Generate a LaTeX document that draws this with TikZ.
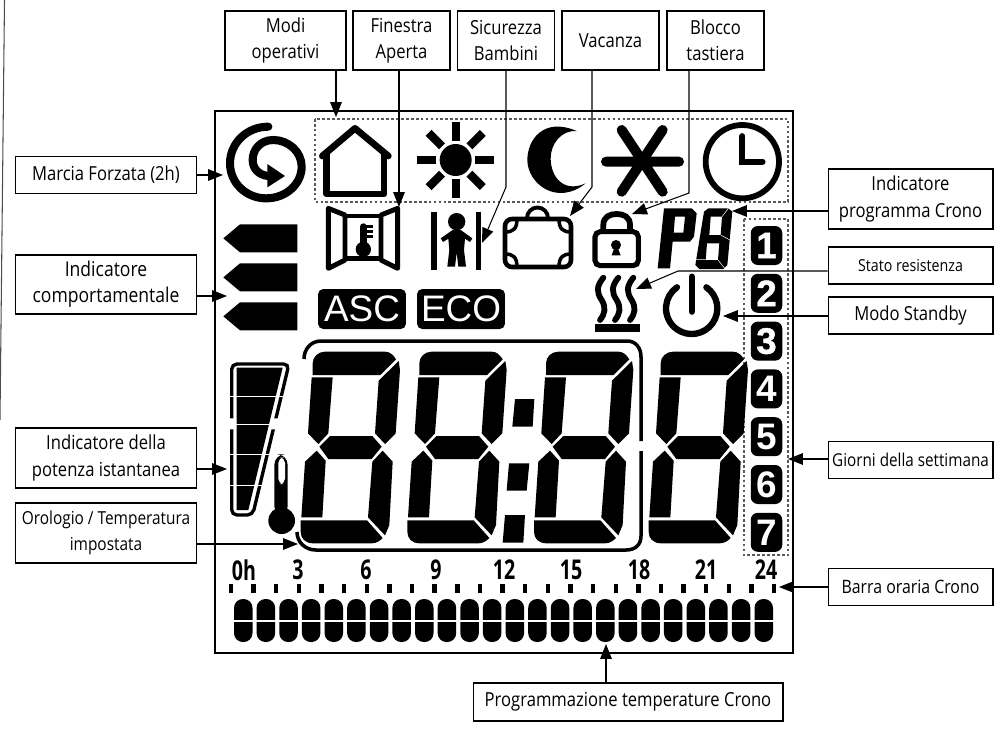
\documentclass[tikz,border=0pt]{standalone}
\usepackage{fontspec}
\usetikzlibrary{arrows.meta}
\setmainfont[FakeStretch=0.86]{Open Sans}
\newfontfamily\lcdfont[BoldFeatures={FakeBold=1.1}]{Liberation Sans}
\newfontfamily\dayfont{Liberation Sans}
\newfontfamily\hourfont[FakeStretch=0.72]{Open Sans}
\tikzset{
    labelbox/.style={draw,line width=.6pt,fill=white,inner sep=0pt,align=center,font=\fontsize{11}{15}\selectfont},
    topbox/.style={labelbox,minimum width=1.94cm,minimum height=1.18cm},
    leftbox/.style={labelbox,minimum width=3.62cm},
    rightbox/.style={labelbox,minimum width=3.3cm},
    conn/.style={line width=.6pt,-{Triangle[length=8.5pt,width=6.6pt]}},
    daybox/.style={fill=black,rounded corners=4pt,text=white,minimum width=.63cm,minimum height=.78cm,inner sep=0pt,font=\dayfont\bfseries\fontsize{21}{21}\selectfont},
    modebox/.style={fill=black,rounded corners=3pt,text=white,minimum width=1.76cm,minimum height=.8cm,inner sep=0pt,font=\dayfont\fontsize{21}{21}\selectfont},
    hourlabel/.style={inner sep=0pt,font=\hourfont\bfseries\fontsize{15.5}{16}\selectfont},
    groupbox/.style={line width=.6pt,black!65,dash pattern=on 1.5pt off 1.3pt},
    zoomone/.style={shift={(210,100)},scale=1/3},
    zoomtwo/.style={shift={(520,100)},scale=1/3},
    zoomthree/.style={shift={(210,330)},scale=1/3}
}
\begin{document}
\begin{tikzpicture}[x=0.02cm,y=-0.02cm]
    \useasboundingbox (0,0) rectangle (1000,751);
    \draw[line width=.6pt,black!70] (4.5,0) -- (0,420);
    \draw[line width=.9pt] (215,111) rectangle (793,653);
    \draw[groupbox] (315,119) rectangle (788,202);
    \draw[groupbox] (744,219) rectangle (788,555);

    % top row of icons
    \begin{scope}[zoomone]
        \draw[line width=4.6pt,line cap=round] (175,80) .. controls (110,80) and (60,130) .. (60,190) .. controls (60,250) and (110,295) .. (168,295) .. controls (230,295) and (275,250) .. (275,200) .. controls (275,155) and (235,120) .. (190,120) .. controls (150,120) and (128,150) .. (128,180) .. controls (128,205) and (145,225) .. (175,228);
        \fill (172,192) -- (225,228) -- (172,262) -- cycle;
        \draw[line width=3.8pt,line cap=round,line join=round] (337,168) -- (435,85) -- (535,168);
        \draw[line width=3.8pt,line join=round] (350,160) -- (350,282) -- (522,282) -- (522,160);
        \fill (737,180) circle (48);
        \foreach \a in {0,45,...,315}{
            \draw[line width=4.7pt] ({737+58*cos(\a)},{180+58*sin(\a)}) -- ({737+115*cos(\a)},{180+115*sin(\a)});
        }
        % window
        \draw[line width=2.8pt,line join=round] (355,325) -- (405,345) -- (405,480) -- (355,505) -- cycle;
        \draw[line width=2.8pt,line join=round] (563,325) -- (513,345) -- (513,480) -- (563,505) -- cycle;
        \draw[line width=2.8pt] (405,348) -- (513,348) (405,476) -- (513,476);
        \fill (460,448) circle (23);
        \draw[line width=3.8pt,line cap=round] (460,445) -- (460,380);
        \foreach \y in {380,395,410}{
            \draw[line width=1.6pt] (460,\y) -- (488,\y);
        }
        % child
        \draw[line width=3.1pt] (672,335) -- (672,510) (805,335) -- (805,510);
        \fill (740,365) circle (26);
        \fill[line join=round] (692,415) -- (728,390) -- (752,390) -- (787,415) -- (780,426) -- (765,416) -- (762,450) -- (768,500) -- (745,500) -- (740,458) -- (735,500) -- (712,500) -- (718,450) -- (715,416) -- (699,426) -- cycle;
        % behaviour arrows
        \foreach \y in {373,490,607}{
            \fill (40,\y+42) -- (90,\y) -- (262,\y) -- (262,\y+84) -- (90,\y+84) -- cycle;
        }
    \end{scope}
    \begin{scope}[zoomtwo]
        \fill (170,93) .. controls (70,50) and (22,120) .. (22,180) .. controls (22,250) and (110,320) .. (197,250) .. controls (130,280) and (92,230) .. (92,175) .. controls (92,130) and (125,90) .. (170,93) -- cycle;
        \draw[line width=5.7pt,line cap=round] (258,185) -- (477,185) (305,90) -- (428,275) (428,90) -- (305,275);
        \draw[line width=3.3pt] (667,185) circle (110);
        \draw[line width=3.3pt,line cap=round] (667,108) -- (667,185) -- (728,185);
        % lock
        \draw[line width=2.9pt,rounded corners=3pt] (225,395) rectangle (355,497);
        \draw[line width=3.3pt] (250,395) -- (250,375) .. controls (250,350) and (270,342) .. (290,342) .. controls (310,342) and (330,350) .. (330,375) -- (330,395);
        \fill (288,435) circle (15);
        \fill (284,440) -- (292,440) -- (302,466) -- (275,466) -- cycle;
        % program number
        \fill[even odd rule] (432,325) -- (515,325) -- (530,340) -- (522,410) -- (510,425) -- (458,425) -- (450,505) -- (413,505) -- cycle (465,350) -- (495,350) -- (490,398) -- (461,398) -- cycle;
        \fill[even odd rule] (552,335) -- (565,325) -- (625,325) -- (637,335) -- (622,495) -- (610,507) -- (538,507) -- (526,495) -- cycle (572,350) -- (606,350) -- (602,405) -- (568,405) -- cycle (561,430) -- (598,430) -- (594,480) -- (557,480) -- cycle;
        \draw[white,line width=.3pt] (625,325) -- (606,350) (602,405) -- (630,420) (526,478) -- (557,478) (594,480) -- (614,505);
        % heater
        \foreach \x in {0,45,90}{
            \draw[line width=3.3pt,line cap=round] (250+\x,533) .. controls (228+\x,560) and (230+\x,578) .. (245+\x,600) .. controls (258+\x,622) and (256+\x,640) .. (240+\x,660);
        }
        \fill (225,672) rectangle (360,697);
        % standby
        \draw[line width=3.6pt,line cap=round] ({515+77*cos(-55)},{625+77*sin(-55)}) arc[start angle=-55,end angle=235,radius=77];
        \draw[line width=3.6pt,line cap=round] (515,530) -- (515,635);
    \end{scope}
    % suitcase
    \draw[line width=2.6pt,rounded corners=4pt] (505,219) rectangle (571,267);
    \draw[line width=2.2pt] (527,218) arc[start angle=180,end angle=360,radius=10.5];
    \foreach \sx/\sy/\cx/\cy in {571/219/-1/1,505/219/1/1,571/267/-1/-1,505/267/1/-1}{
        \draw[line width=2pt] (\sx+12*\cx,\sy) .. controls (\sx+12*\cx,\sy+10*\cy) and (\sx+8*\cx,\sy+13*\cy) .. (\sx,\sy+13*\cy);
    }

    % mode flags and days
    \node[modebox] (asc) at (362,309) {ASC};
    \node[modebox] (eco) at (461,309) {ECO};
    \foreach \n in {1,2,3}{
        \node[daybox,font=\lcdfont\bfseries\fontsize{21}{21}\selectfont] (day\n) at (766.5,{245.5+47.8*(\n-1)}) {\n};
    }
    \foreach \n in {4,5,6,7}{
        \node[daybox] (day\n) at (766.5,{245.5+47.8*(\n-1)}) {\n};
    }

    % power bar, thermometer
    \begin{scope}[zoomthree]
        \draw[line width=1.9pt,rounded corners=3pt] (65,102) -- (237,102) -- (128,555) -- (65,555) -- cycle;
        \fill (80,113) -- (218,113) -- (115,540) -- (80,540) -- cycle;
        \foreach \y in {200,282,373,465}{
            \draw[white,line width=.5pt] (50,\y) -- (250,\y);
        }
        \fill[white] (52,265) rectangle (78,298) (184,265) rectangle (216,298);
        \fill[rounded corners=6pt] (193,560) -- (193,373) -- (233,373) -- (233,560) -- cycle;
        \fill (215,572) circle (40);
        \fill[white,rounded corners=3pt] (205,462) -- (205,383) -- (225,383) -- (225,462) -- cycle;
        % big digits
        \foreach \dx in {0,320,700,1044}{
            \begin{scope}[shift={(\dx,0)}]
                \fill (308,135) -- (308,100) .. controls (308,80) and (325,65) .. (345,65) -- (525,65) .. controls (540,65) and (550,75) .. (558,88) -- (511,135) -- cycle;
                \fill (305,142) -- (368,142) -- (355,310) -- (325,342) -- (294,310) -- cycle;
                \fill (566,93) -- (570,120) -- (557,310) -- (525,342) -- (495,310) -- (506,152) -- cycle;
                \fill (328,350) -- (360,318) -- (487,318) -- (515,350) -- (485,387) -- (355,387) -- cycle;
                \fill (320,362) -- (347,392) -- (337,562) -- (274,562) -- (285,395) -- cycle;
                \fill (518,362) -- (548,395) -- (538,585) -- (525,616) -- (474,562) -- (487,395) -- cycle;
                \fill (272,571) -- (471,571) -- (518,624) .. controls (510,632) and (500,640) .. (485,640) -- (310,640) .. controls (285,640) and (272,625) .. (272,605) -- cycle;
            \end{scope}
        }
        \fill (915,207) -- (973,207) -- (968,290) -- (907,290) -- cycle;
        \fill (897,400) -- (958,400) -- (950,482) -- (890,482) -- cycle;
        \fill (885,555) -- (945,555) -- (940,638) -- (878,638) -- cycle;
    \end{scope}
    \draw[line width=2pt] (304,359) .. controls (304,349) and (311,341) .. (321,341) -- (627,341) .. controls (636,341) and (641,348) .. (641,357) -- (641,441);
    \draw[line width=2pt] (641,451) -- (641,536) .. controls (641,545) and (635,550) .. (626,550) -- (316,550) .. controls (305,550) and (297,542) .. (297,532);

    % hour scale
    \foreach \t/\x in {0h/244,3/298,6/366,9/436,12/504,15/571,18/639,21/706,24/766}{
        \node[hourlabel] (hour\t) at (\x,570) {\t};
    }
    \foreach \i in {0,...,24}{
        \fill ({231+22.63*\i-2.2},584) rectangle ({231+22.63*\i+2.2},593);
    }
    \foreach \i in {0,...,23}{
        \fill[rounded corners=5pt] ({234+22.63*\i},599) rectangle ({252.5+22.63*\i},642);
        \draw[white,line width=.6pt] ({233+22.63*\i},621) -- ({253.5+22.63*\i},621);
    }

    % labels
    \node[topbox,minimum width=2.42cm] (modi) at (285.5,40.5) {Modi\\operativi};
    \node[topbox] (finestra) at (401.5,40.5) {Finestra\\Aperta};
    \node[topbox] (sicurezza) at (506,40.5) {Sicurezza\\Bambini};
    \node[topbox] (vacanza) at (610.5,40.5) {Vacanza};
    \node[topbox] (blocco) at (715.5,40.5) {Blocco\\tastiera};
    \node[leftbox,minimum height=.74cm] (marcia) at (106,175) {Marcia Forzata (2h)};
    \node[leftbox,minimum height=1.18cm,font=\fontsize{11.6}{15}\selectfont] (comport) at (106,284.5) {Indicatore\\comportamentale};
    \node[leftbox,minimum height=1.2cm] (potenza) at (106,458) {Indicatore della\\potenza istantanea};
    \node[leftbox,minimum height=1.2cm,font=\fontsize{10.2}{15}\selectfont] (orologio) at (106,533) {Orologio / Temperatura\\impostata};
    \node[rightbox,minimum height=1.2cm] (programma) at (910.5,199) {Indicatore\\programma Crono};
    \node[rightbox,minimum height=.74cm,font=\fontsize{9.4}{15}\selectfont] (stato) at (910.5,265.5) {Stato resistenza};
    \node[rightbox,minimum height=.74cm] (standby) at (910.5,315.5) {Modo Standby};
    \node[rightbox,minimum height=.74cm,font=\fontsize{10.1}{15}\selectfont] (giorni) at (910.5,460) {Giorni della settimana};
    \node[rightbox,minimum height=.74cm,font=\fontsize{10.5}{15}\selectfont] (barra) at (910.5,587) {Barra oraria Crono};
    \node[labelbox,minimum width=6.2cm,minimum height=.76cm] (crono) at (628,702) {Programmazione temperature Crono};

    % connectors
    \coordinate (tipmodi) at (336,117);
    \coordinate (tipfinestra) at (399,207);
    \coordinate (bendsicurezza) at (506,187);
    \coordinate (tipsicurezza) at (482,243);
    \coordinate (bendvacanza) at (592,187);
    \coordinate (tipvacanza) at (570,216);
    \coordinate (bendblocco) at (689,193);
    \coordinate (tipblocco) at (632,214);
    \coordinate (tipmarcia) at (223,175);
    \coordinate (tipcomport) at (227,296);
    \coordinate (tippotenza) at (227,469);
    \coordinate (tiporologio) at (298,544);
    \coordinate (tipprogramma) at (732,211);
    \coordinate (bendstato) at (678,271);
    \coordinate (tipstato) at (636,289);
    \coordinate (tipstandby) at (723,316);
    \coordinate (tipgiorni) at (788,459);
    \coordinate (tipbarra) at (779,587);
    \coordinate (tipcrono) at (606,644);
    \draw[conn] (modi.south -| tipmodi) -- (tipmodi);
    \draw[conn] (finestra.south -| tipfinestra) -- (tipfinestra);
    \draw[conn] (sicurezza.south) -- (bendsicurezza) -- (tipsicurezza);
    \draw[conn] (vacanza.south -| bendvacanza) -- (bendvacanza) -- (tipvacanza);
    \draw[conn] (blocco.south -| bendblocco) -- (bendblocco) -- (tipblocco);
    \draw[conn] (marcia.east) -- (tipmarcia);
    \draw[conn] (comport.east |- tipcomport) -- (tipcomport);
    \draw[conn] (potenza.east |- tippotenza) -- (tippotenza);
    \draw[conn] (orologio.east |- tiporologio) -- (tiporologio);
    \draw[conn] (programma.west |- tipprogramma) -- (tipprogramma);
    \draw[conn] (stato.west |- bendstato) -- (bendstato) -- (tipstato);
    \draw[conn] (standby.west |- tipstandby) -- (tipstandby);
    \draw[conn] (giorni.west |- tipgiorni) -- (tipgiorni);
    \draw[conn] (barra.west |- tipbarra) -- (tipbarra);
    \draw[conn] (crono.north -| tipcrono) -- (tipcrono);
\end{tikzpicture}
\end{document}
